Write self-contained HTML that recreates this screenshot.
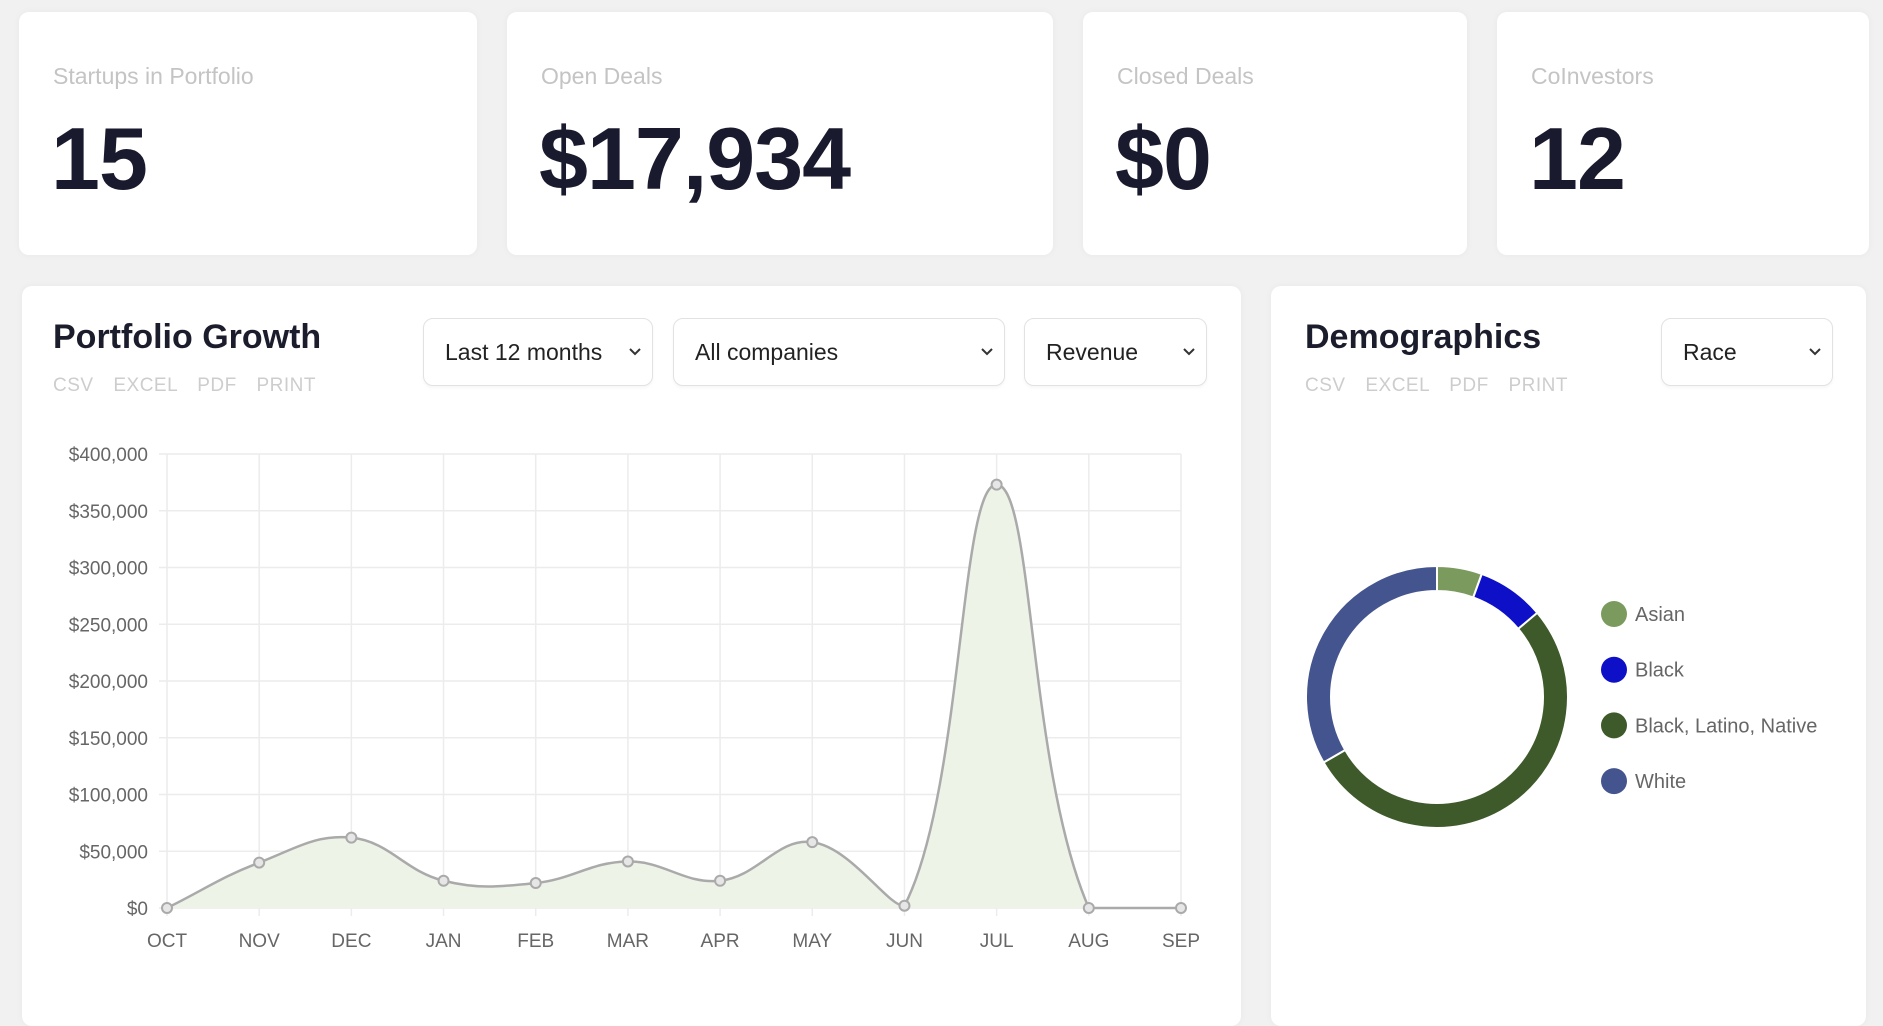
<!DOCTYPE html>
<html><head><meta charset="utf-8"><style>
body{margin:0;width:1883px;height:1011px;background:#f1f1f1;font-family:"Liberation Sans",sans-serif;position:relative;overflow:hidden}
.card{position:absolute;background:#fff;border-radius:10px;box-shadow:0 0 8px rgba(0,0,0,0.04)}
.lbl{position:absolute;left:34px;top:51px;font-size:23px;color:#c4c4c4}
.num{position:absolute;left:32px;top:96px;font-size:88px;font-weight:bold;color:#191a2e;letter-spacing:-1px}
.title{position:absolute;font-size:34px;font-weight:bold;color:#1c1d2c}
.exp{position:absolute;font-size:19px;color:#cdcdcd;word-spacing:14px;letter-spacing:0.5px}
.dd{position:absolute;border:1.5px solid #e2e2e2;border-radius:10px;background:#fff;font-size:23px;color:#222;box-sizing:border-box;padding-left:21px;line-height:66px;box-shadow:0 2px 3px rgba(0,0,0,0.04)}
.dd svg{position:absolute;right:10px;top:28px}
</style></head><body>
<div class="card" style="left:19px;top:12px;width:458px;height:243px"><div class="lbl">Startups in Portfolio</div><div class="num">15</div></div>
<div class="card" style="left:507px;top:12px;width:546px;height:243px"><div class="lbl">Open Deals</div><div class="num">$17,934</div></div>
<div class="card" style="left:1083px;top:12px;width:384px;height:243px"><div class="lbl">Closed Deals</div><div class="num">$0</div></div>
<div class="card" style="left:1497px;top:12px;width:372px;height:243px"><div class="lbl">CoInvestors</div><div class="num">12</div></div>

<div class="card" style="left:22px;top:286px;width:1219px;height:740px"></div>
<div class="card" style="left:1271px;top:286px;width:595px;height:740px"></div>

<div class="title" style="left:53px;top:318px">Portfolio Growth</div>
<div class="exp" style="left:53px;top:375px">CSV EXCEL PDF PRINT</div>
<div class="dd" style="left:423px;top:318px;width:230px;height:68px">Last 12 months<svg width="14" height="10"><path d="M2 2l5 5 5-5" stroke="#333" stroke-width="2" fill="none"/></svg></div>
<div class="dd" style="left:673px;top:318px;width:332px;height:68px">All companies<svg width="14" height="10"><path d="M2 2l5 5 5-5" stroke="#333" stroke-width="2" fill="none"/></svg></div>
<div class="dd" style="left:1024px;top:318px;width:183px;height:68px">Revenue<svg width="14" height="10"><path d="M2 2l5 5 5-5" stroke="#333" stroke-width="2" fill="none"/></svg></div>

<div class="title" style="left:1305px;top:318px">Demographics</div>
<div class="exp" style="left:1305px;top:375px">CSV EXCEL PDF PRINT</div>
<div class="dd" style="left:1661px;top:318px;width:172px;height:68px">Race<svg width="14" height="10"><path d="M2 2l5 5 5-5" stroke="#333" stroke-width="2" fill="none"/></svg></div>

<svg id="chart" width="1883" height="1011" style="position:absolute;left:0;top:0"></svg>
<script>
const months=["OCT","NOV","DEC","JAN","FEB","MAR","APR","MAY","JUN","JUL","AUG","SEP"];
const revenue=[0,40000,62000,24000,22000,41000,24000,58000,2000,373000,0,0];
const yTicks=[0,50000,100000,150000,200000,250000,300000,350000,400000];
const yTickLabels=["$0","$50,000","$100,000","$150,000","$200,000","$250,000","$300,000","$350,000","$400,000"];
const raceLabels=["Asian","Black","Black, Latino, Native","White"];
const raceValues=[2,3,19,12];
const raceColors=["#7b9a5e","#0e10c8","#3f5a2a","#44548e"];

const NS="http://www.w3.org/2000/svg";
const svg=document.getElementById('chart');
const X0=167,X1=1181,Y0=908,Y1=454;
const x=i=>X0+(X1-X0)*i/(months.length-1);
const y=v=>Y0-(Y0-Y1)*v/400000;
function mk(t,a,p){const e=document.createElementNS(NS,t);for(const k in a)e.setAttribute(k,a[k]);(p||svg).appendChild(e);return e;}
for(let i=0;i<months.length;i++){
  const g=mk('line',{x1:x(i),x2:x(i),y1:Y1,y2:Y0+8,stroke:'#ececec','stroke-width':1.5});
  
  
  const t=mk('text',{x:x(i),y:947,'text-anchor':'middle','font-size':19,fill:'#666','font-family':'Liberation Sans'});
  t.textContent=months[i];
  
  
}
for(let j=0;j<yTicks.length;j++){
  const g=mk('line',{x1:X0-8,x2:X1,y1:y(yTicks[j]),y2:y(yTicks[j]),stroke:'#ececec','stroke-width':1.5});
  
  
  const t=mk('text',{x:148,y:y(yTicks[j])+7,'text-anchor':'end','font-size':19,fill:'#666','font-family':'Liberation Sans'});
  t.textContent=yTickLabels[j];
  
  
}
const pts=revenue.map((v,i)=>[x(i),y(v)]);
function cps(p0,p1,p2,t){const d01=Math.hypot(p1[0]-p0[0],p1[1]-p0[1]),d12=Math.hypot(p2[0]-p1[0],p2[1]-p1[1]);let fa=t*d01/(d01+d12||1),fb=t*d12/(d01+d12||1);return[[p1[0]-fa*(p2[0]-p0[0]),p1[1]-fa*(p2[1]-p0[1])],[p1[0]+fb*(p2[0]-p0[0]),p1[1]+fb*(p2[1]-p0[1])]];}
const cp=pts.map((p,i)=>cps(pts[Math.max(i-1,0)],p,pts[Math.min(i+1,pts.length-1)],0.4));
let d='M'+pts[0][0]+','+pts[0][1];
for(let i=1;i<pts.length;i++){const a=cp[i-1][1],b=cp[i][0];d+=` C${a[0]},${Math.min(a[1],Y0)} ${b[0]},${Math.min(b[1],Y0)} ${pts[i][0]},${pts[i][1]}`;}
const area=mk('path',{d:d+` L${X1},${Y0} L${X0},${Y0} Z`,fill:'#eef3e8'});


const line=mk('path',{d:d,fill:'none',stroke:'#aaa','stroke-width':2.5});


pts.forEach(p=>{const c=mk('circle',{cx:p[0],cy:p[1],r:5,fill:'#e6e6e6',stroke:'#aaa','stroke-width':2});

});

const cx=1437,cy=697,ro=131,ri=106;
const total=raceValues.reduce((a,b)=>a+b,0);
let ang=0;
raceValues.forEach((v,i)=>{
  const a0=ang,a1=ang+v/total*2*Math.PI;ang=a1;
  const P=(r,a)=>[cx+r*Math.sin(a),cy-r*Math.cos(a)];
  const L=a1-a0>Math.PI?1:0;
  const o0=P(ro,a0),o1=P(ro,a1),i1=P(ri,a1),i0=P(ri,a0);
  const s=mk('path',{d:`M${o0} A${ro},${ro} 0 ${L} 1 ${o1} L${i1} A${ri},${ri} 0 ${L} 0 ${i0} Z`,fill:raceColors[i],stroke:'#fff','stroke-width':2});
  
  
  const ly=614+i*55.7;
  const c=mk('circle',{cx:1614,cy:ly,r:13,fill:raceColors[i]});
  
  
  const t=mk('text',{x:1635,y:ly+7,'font-size':20,fill:'#666','font-family':'Liberation Sans'});
  t.textContent=raceLabels[i];
  
  
});
</script>
</body></html>
